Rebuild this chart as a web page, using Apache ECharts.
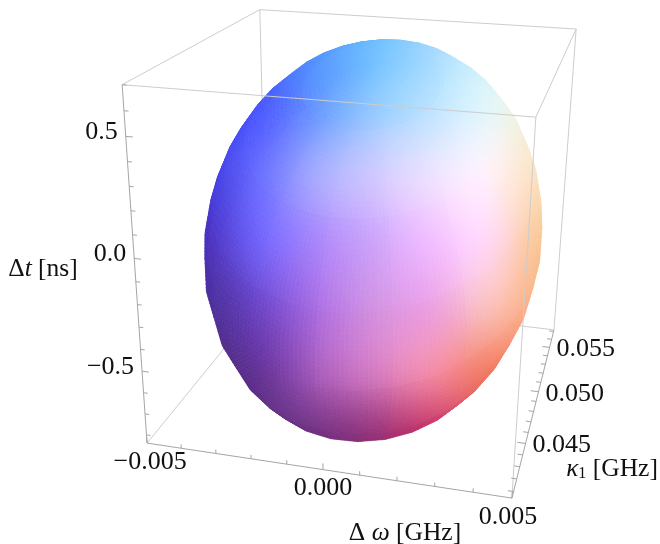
<!DOCTYPE html>
<html><head><meta charset="utf-8">
<style>html,body{margin:0;padding:0;background:#fff}#c{width:660px;height:544px}</style>
<script src="https://cdn.jsdelivr.net/npm/echarts@6/dist/echarts.min.js"></script>
</head><body><div id="c"></div>
<script>
// ---- values ----
const omegaRange = [-0.005, 0.005];
const kappaRange = [0.0405, 0.0572];
const timeRange = [-0.84, 0.70];
const omegaMajor = [-0.005, 0, 0.005];
const omegaMinor = [-0.004,-0.003,-0.002,-0.001,0.001,0.002,0.003,0.004];
const kappaMajor = [0.045, 0.050, 0.055];
const kappaMinor = [0.041,0.042,0.043,0.044,0.046,0.047,0.048,0.049,0.051,0.052,0.053,0.054,0.056,0.057];
const timeMajor = [-0.5, 0, 0.5];
const timeMinor = [-0.8,-0.7,-0.6,-0.4,-0.3,-0.2,-0.1,0.1,0.2,0.3,0.4,0.6,0.7];
const omegaLabels = ['\u22120.005','0.000','0.005'];
const kappaLabels = ['0.045','0.050','0.055'];
const timeLabels = ['\u22120.5','0.0','0.5'];
// ellipsoid: centre and semi-axes (omega, kappa, t), tilt as fractions of the semi-axes
const ellipsoidCenter = [-0.00002, 0.0489, -0.108];
const ellipsoidSemi = [0.00488, 0.00835, 0.80];
const ellipsoidTilt = [[1,-0.065,0],[0,1,0],[0.04,0.36,0.93]];
const meshLat = 15, meshLon = 30, meshSub = 8;

// ---- surface colours read across the silhouette (rows top to bottom, columns left to right) ----
const shadeTable = [
 [[60,90,250],[70,110,255],[85,150,255],[110,190,255],[160,215,255],[210,240,250],[240,245,230]],
 [[60,70,240],[75,90,255],[100,150,255],[145,200,255],[185,225,255],[225,245,250],[245,240,215]],
 [[65,60,225],[105,110,255],[165,170,255],[205,200,255],[235,225,255],[255,240,250],[250,225,190]],
 [[75,50,190],[115,100,250],[170,135,250],[205,165,250],[240,190,255],[255,215,245],[250,200,150]],
 [[75,45,150],[110,70,200],[170,110,225],[210,145,225],[235,160,225],[250,190,190],[250,170,120]],
 [[80,45,120],[100,50,150],[165,90,185],[210,120,190],[240,135,165],[240,120,100],[240,110,90]],
 [[80,40,110],[85,45,120],[110,45,125],[145,45,115],[190,40,95],[200,50,95],[210,70,90]]];
const facetBlend = 0.05;

// ---- camera: screen position of the eight box corners ----
const boxCorners = [
 [[-1,-1,-1],[147,443]],[[1,-1,-1],[512,498]],[[1,1,-1],[554,330]],[[-1,1,-1],[267,296]],
 [[-1,-1,1],[122,85]],[[1,-1,1],[536,117]],[[1,1,1],[576,29]],[[-1,1,1],[260,9.5]]];
function solve(A,b){const n=b.length;const M=A.map((r,i)=>r.concat(b[i]));
 for(let i=0;i<n;i++){let p=i;for(let k=i+1;k<n;k++)if(Math.abs(M[k][i])>Math.abs(M[p][i]))p=k;
  [M[i],M[p]]=[M[p],M[i]];
  for(let k=0;k<n;k++){if(k===i)continue;const f=M[k][i]/M[i][i];for(let j=i;j<=n;j++)M[k][j]-=f*M[i][j];}}
 return M.map((r,i)=>r[n]/r[i]);}
const H=(function(){const rows=[],rhs=[];
 boxCorners.forEach(([u,s])=>{const[x,y,z]=u,[sx,sy]=s;
  rows.push([x,y,z,1,0,0,0,0,-sx*x,-sx*y,-sx*z]);rhs.push(sx);
  rows.push([0,0,0,0,x,y,z,1,-sy*x,-sy*y,-sy*z]);rhs.push(sy);});
 const N=Array.from({length:11},()=>new Array(11).fill(0)),v=new Array(11).fill(0);
 rows.forEach((r,k)=>{for(let i=0;i<11;i++){v[i]+=r[i]*rhs[k];for(let j=0;j<11;j++)N[i][j]+=r[i]*r[j];}});
 return solve(N,v);})();
function proj(u){const[x,y,z]=u;const w=H[8]*x+H[9]*y+H[10]*z+1;
 return[(H[0]*x+H[1]*y+H[2]*z+H[3])/w,(H[4]*x+H[5]*y+H[6]*z+H[7])/w];}
const norm=(v,r)=>2*(v-r[0])/(r[1]-r[0])-1;
const toBox=(w,k,t)=>[norm(w,omegaRange),norm(k,kappaRange),norm(t,timeRange)];

// ---- surface mesh ----
function vertex(i,j){const th=Math.PI*i/meshLat,ph=2*Math.PI*j/meshLon;
 const d=[Math.sin(th)*Math.cos(ph),Math.sin(th)*Math.sin(ph),Math.cos(th)];
 const m=ellipsoidTilt.map(r=>r[0]*d[0]+r[1]*d[1]+r[2]*d[2]);
 return proj(toBox(ellipsoidCenter[0]+ellipsoidSemi[0]*m[0],ellipsoidCenter[1]+ellipsoidSemi[1]*m[1],ellipsoidCenter[2]+ellipsoidSemi[2]*m[2]));}
const verts=[];let minX=1e9,maxX=-1e9,minY=1e9,maxY=-1e9;
for(let i=0;i<=meshLat;i++){verts.push([]);for(let j=0;j<=meshLon;j++){const p=vertex(i,j);verts[i].push(p);
 minX=Math.min(minX,p[0]);maxX=Math.max(maxX,p[0]);minY=Math.min(minY,p[1]);maxY=Math.max(maxY,p[1]);}}
const cx=(minX+maxX)/2,cy=(minY+maxY)/2,rx=(maxX-minX)/2,ry=(maxY-minY)/2;
const lerp=(a,b,t)=>[a[0]+(b[0]-a[0])*t,a[1]+(b[1]-a[1])*t];
const bil=(q,s,t)=>lerp(lerp(q[0],q[1],s),lerp(q[3],q[2],s),t);
const area=q=>{let a=0;for(let i=0;i<q.length;i++){const p=q[i],r=q[(i+1)%q.length];a+=p[0]*r[1]-r[0]*p[1];}return a;};
function refSign(){const j=Math.round(meshLon*0.75),i=Math.round(meshLat/2);
 return area([verts[i][j],verts[i][j+1],verts[i+1][j+1],verts[i+1][j]]);}
function frontFacing(i,j){const q=[verts[i][j],verts[i][j+1],verts[i+1][j+1],verts[i+1][j]];
 return area(q)*refSign()>0;}
const screenUV=p=>[Math.max(-1,Math.min(1,(p[0]-cx)/rx)),Math.max(-1,Math.min(1,(cy-p[1])/ry))];
const cr=(p0,p1,p2,p3,t)=>0.5*(2*p1+(p2-p0)*t+(2*p0-5*p1+4*p2-p3)*t*t+(3*p1-p0-3*p2+p3)*t*t*t);
function tableColor(a,b){
 const n=shadeTable.length-1;
 const fx=(a+1)/2*n,fy=(1-b)/2*n;
 const ix=Math.min(n-1,Math.floor(fx)),iy=Math.min(n-1,Math.floor(fy));
 const tx=fx-ix,ty=fy-iy;
 const cl=v=>Math.max(0,Math.min(n,v));
 return[0,1,2].map(ch=>{
  const col=[-1,0,1,2].map(dy=>{const r=shadeTable[cl(iy+dy)];
   return cr(r[cl(ix-1)][ch],r[cl(ix)][ch],r[cl(ix+1)][ch],r[cl(ix+2)][ch],tx);});
  return Math.round(Math.max(0,Math.min(255,cr(col[0],col[1],col[2],col[3],ty))));});
}
const surfaceRows=[];
for(let i=0;i<meshLat;i++)for(let j=0;j<meshLon;j++){
 if(!frontFacing(i,j))continue;
 const q=[verts[i][j],verts[i][j+1],verts[i+1][j+1],verts[i+1][j]];
 const gi=Math.floor(i/2)*2,gj=Math.floor(j/2)*2;
 const gc=verts[Math.min(meshLat,gi+1)][Math.min(meshLon,gj+1)];
 const uvc=screenUV(gc);
 for(let s=0;s<meshSub;s++)for(let t=0;t<meshSub;t++){
  const s0=s/meshSub,s1=(s+1)/meshSub,t0=t/meshSub,t1=(t+1)/meshSub;
  const pts=[bil(q,s0,t0),bil(q,s1,t0),bil(q,s1,t1),bil(q,s0,t1)];
  const uv=screenUV(bil(q,(s0+s1)/2,(t0+t1)/2));
  const c=tableColor(uv[0]*(1-facetBlend)+uvc[0]*facetBlend,uv[1]*(1-facetBlend)+uvc[1]*facetBlend);
  surfaceRows.push([pts[0][0],pts[0][1],pts[1][0],pts[1][1],pts[2][0],pts[2][1],pts[3][0],pts[3][1],c[0],c[1],c[2]]);
 }
}

// ---- box and ticks ----
const backEdges=[[[-1,1,1],[-1,1,-1]],[[-1,1,-1],[-1,-1,-1]],[[-1,1,-1],[1,1,-1]],[[-1,1,1],[1,1,1]],[[1,1,1],[1,1,-1]]];
const frontEdges=[[[-1,-1,1],[1,-1,1]],[[1,-1,1],[1,-1,-1]],[[-1,-1,1],[-1,1,1]],[[1,-1,1],[1,1,1]]];
const axisEdges=[[[-1,-1,1],[-1,-1,-1]],[[-1,-1,-1],[1,-1,-1]],[[1,-1,-1],[1,1,-1]]];
const seg=(a,b,c)=>{const p=proj(a),q=proj(b);return[p[0],p[1],q[0],q[1],c];};
const BOX=205,AX=165;
const backRows=backEdges.map(e=>seg(e[0],e[1],BOX));
const frontRows=frontEdges.map(e=>seg(e[0],e[1],BOX)).concat(axisEdges.map(e=>seg(e[0],e[1],AX)));
const tickMajor=0.038,tickMinor=0.024;
function addTicks(list,len,f){list.forEach(v=>{const[a,b]=f(v,len);frontRows.push(seg(a,b,AX));});}
const tTick=(v,l)=>{const z=norm(v,timeRange);return[[-1,-1,z],[-1+l,-1,z]];};
const wTick=(v,l)=>{const x=norm(v,omegaRange);return[[x,-1,-1],[x,-1,-1+l]];};
const kTick=(v,l)=>{const y=norm(v,kappaRange);return[[1,y,-1],[1-l,y,-1]];};
addTicks(timeMajor,tickMajor,tTick);addTicks(timeMinor,tickMinor,tTick);
addTicks(omegaMajor,tickMajor,wTick);addTicks(omegaMinor,tickMinor,wTick);
addTicks(kappaMajor,tickMajor*1.2,kTick);addTicks(kappaMinor,tickMinor*1.2,kTick);

// ---- text ----
const FONT='"Liberation Serif","Times New Roman",serif';
const textRows=[];
timeLabels.forEach((s,i)=>{const p=proj(toBox(omegaRange[0],kappaRange[0],timeMajor[i]));textRows.push({x:p[0]-8,y:p[1]-4,t:s,a:'right'});});
omegaLabels.forEach((s,i)=>{const p=proj(toBox(omegaMajor[i],kappaRange[0],timeRange[0]));textRows.push({x:p[0]+(i===0?3:i===2?-4:0),y:p[1]+19,t:s,a:'center'});});
kappaLabels.forEach((s,i)=>{const p=proj(toBox(omegaRange[1],kappaMajor[i],timeRange[0]));textRows.push({x:p[0]+7,y:p[1]+2,t:s,a:'left'});});
const richStyles={i:{fontFamily:FONT,fontStyle:'italic',fontSize:25.5,fill:'#111'},s:{fontFamily:FONT,fontSize:16,fill:'#111',verticalAlign:'bottom',padding:[8,0,0,0]},n:{fontFamily:FONT,fontSize:25.5,fill:'#111'}};
textRows.push({x:43,y:269,t:'{n|\u0394}{i|t}{n| [ns]}',a:'center',rich:true});
textRows.push({x:405,y:533,t:'{n|\u0394 }{i|\u03c9}{n| [GHz]}',a:'center',rich:true});
textRows.push({x:612,y:469,t:'{i|\u03ba}{s|1}{n| [GHz]}',a:'center',rich:true});

const lineItem=(p,api)=>{const a=api.coord([api.value(0),api.value(1)]),b=api.coord([api.value(2),api.value(3)]);const g=api.value(4);
 return{type:'line',silent:true,shape:{x1:a[0],y1:a[1],x2:b[0],y2:b[1]},style:{stroke:'rgb('+g+','+g+','+g+')',lineWidth:1}};};

const chart=echarts.init(document.getElementById('c'),null,{renderer:'canvas'});
chart.setOption({
 animation:false,backgroundColor:'#fff',
 grid:{left:0,right:0,top:0,bottom:0},
 xAxis:{type:'value',min:0,max:660,show:false},
 yAxis:{type:'value',min:0,max:544,inverse:true,show:false},
 tooltip:{show:false},
 series:[
  {type:'custom',name:'box back',clip:false,silent:true,progressive:0,data:backRows,encode:{x:0,y:1},renderItem:lineItem},
  {type:'custom',name:'surface',clip:false,silent:true,progressive:0,data:surfaceRows,encode:{x:0,y:1},renderItem:(p,api)=>{
    const pts=[0,2,4,6].map(k=>api.coord([api.value(k),api.value(k+1)]));
    const col='rgb('+api.value(8)+','+api.value(9)+','+api.value(10)+')';
    return{type:'polygon',silent:true,shape:{points:pts},style:{fill:col,stroke:col,lineWidth:0.7}};}},
  {type:'custom',name:'box front',clip:false,silent:true,progressive:0,data:frontRows,encode:{x:0,y:1},renderItem:lineItem},
  {type:'custom',name:'labels',clip:false,silent:true,progressive:0,data:textRows.map((r,i)=>[r.x,r.y,i]),encode:{x:0,y:1},renderItem:(p,api)=>{
    const r=textRows[api.value(2)],c=api.coord([r.x,r.y]);
    const st={x:c[0],y:c[1],text:r.t,textAlign:r.a,textVerticalAlign:'middle',fontFamily:FONT,fontSize:26,fill:'#111'};
    if(r.rich)st.rich=richStyles;
    return{type:'text',silent:true,style:st};}}
 ]
});
</script></body></html>
